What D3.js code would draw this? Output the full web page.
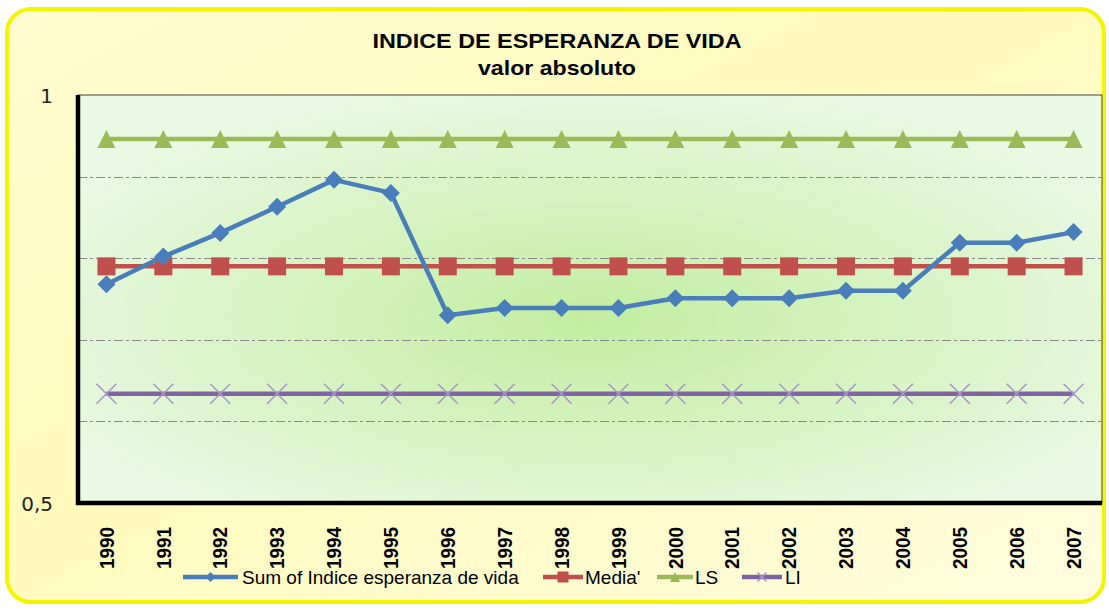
<!DOCTYPE html>
<html lang="es">
<head>
<meta charset="UTF-8">
<title>Indice de esperanza de vida</title>
<script src="https://d3js.org/d3.v7.min.js"></script>
<style>
  body { margin: 0; background: #fff; }
  text { font-family: "Liberation Sans", Arial, sans-serif; }
</style>
</head>
<body>
<script>
var years = ['1990','1991','1992','1993','1994','1995','1996','1997','1998',
             '1999','2000','2001','2002','2003','2004','2005','2006','2007'];
var indice = [0.768, 0.802, 0.831, 0.863, 0.896, 0.880, 0.730, 0.739, 0.739,
              0.739, 0.751, 0.751, 0.751, 0.760, 0.760, 0.819, 0.819, 0.832];
var media  = [0.79, 0.79, 0.79, 0.79, 0.79, 0.79, 0.79, 0.79, 0.79,
              0.79, 0.79, 0.79, 0.79, 0.79, 0.79, 0.79, 0.79, 0.79];
var ls     = [0.946, 0.946, 0.946, 0.946, 0.946, 0.946, 0.946, 0.946, 0.946,
              0.946, 0.946, 0.946, 0.946, 0.946, 0.946, 0.946, 0.946, 0.946];
var li     = [0.634, 0.634, 0.634, 0.634, 0.634, 0.634, 0.634, 0.634, 0.634,
              0.634, 0.634, 0.634, 0.634, 0.634, 0.634, 0.634, 0.634, 0.634];
var gridValues = [0.6, 0.7, 0.8, 0.9];
var yTickValues = [0.5, 1];
var yTickLabels = ['0,5', '1'];
var seriesNames = ['Sum of Indice esperanza de vida', "Media'", 'LS', 'LI'];

var width = 1109, height = 609;
var plotLeft = 78, plotRight = 1102, plotTop = 95, plotBottom = 503;

var svg = d3.select('body').append('svg')
  .attr('width', width)
  .attr('height', height);

var defs = svg.append('defs');
var bg = defs.append('linearGradient').attr('id', 'bg')
  .attr('x1', 0).attr('y1', 0).attr('x2', 1).attr('y2', 1);
bg.append('stop').attr('offset', '0%').attr('stop-color', '#fffcd0');
bg.append('stop').attr('offset', '45%').attr('stop-color', '#fffbbd');
bg.append('stop').attr('offset', '100%').attr('stop-color', '#fffde0');

var plotBg = defs.append('radialGradient').attr('id', 'plotbg')
  .attr('cx', '0.5').attr('cy', '0.55').attr('r', '0.6');
plotBg.append('stop').attr('offset', '0%').attr('stop-color', '#c2eda0');
plotBg.append('stop').attr('offset', '100%').attr('stop-color', '#eaf9e4');

// chart area
svg.append('rect')
  .attr('x', 7).attr('y', 9)
  .attr('width', 1097).attr('height', 593)
  .attr('rx', 24).attr('ry', 24)
  .attr('fill', 'url(#bg)')
  .attr('stroke', '#f7f400')
  .attr('stroke-width', 4);

var x = d3.scalePoint().domain(years).range([plotLeft, plotRight]).padding(0.5);
var y = d3.scaleLinear().domain([0.5, 1]).range([plotBottom, plotTop]);

// plot area
svg.append('rect')
  .attr('x', plotLeft).attr('y', plotTop)
  .attr('width', plotRight - plotLeft).attr('height', plotBottom - plotTop)
  .attr('fill', 'url(#plotbg)')
  .attr('stroke', '#444')
  .attr('stroke-width', 1);

svg.selectAll('line.grid')
  .data(gridValues)
  .enter().append('line')
    .attr('class', 'grid')
    .attr('x1', plotLeft).attr('x2', plotRight)
    .attr('y1', function(d) { return Math.round(y(d)) + 0.5; })
    .attr('y2', function(d) { return Math.round(y(d)) + 0.5; })
    .attr('stroke', '#8a8a8a')
    .attr('stroke-width', 1)
    .attr('stroke-dasharray', '9,3,3,3');

// axes (thick black left and bottom)
svg.append('line')
  .attr('x1', plotLeft).attr('x2', plotLeft)
  .attr('y1', plotTop).attr('y2', plotBottom + 2)
  .attr('stroke', '#000').attr('stroke-width', 4.5);
svg.append('line')
  .attr('x1', plotLeft - 2).attr('x2', plotRight)
  .attr('y1', plotBottom).attr('y2', plotBottom)
  .attr('stroke', '#000').attr('stroke-width', 4.5);

svg.selectAll('text.ytick')
  .data(yTickValues)
  .enter().append('text')
    .attr('class', 'ytick')
    .attr('x', 53)
    .attr('y', function(d) { return y(d); })
    .attr('dy', '0.38em')
    .attr('text-anchor', 'end')
    .style('font-family', '"DejaVu Sans", sans-serif')
    .style('font-size', '20px')
    .attr('fill', '#222')
    .text(function(d, i) { return yTickLabels[i]; });

svg.selectAll('text.xtick')
  .data(years)
  .enter().append('text')
    .attr('class', 'xtick')
    .attr('transform', function(d) { return 'translate(' + x(d) + ',527) rotate(-90)'; })
    .attr('dy', '0.36em')
    .attr('text-anchor', 'end')
    .attr('textLength', 42)
    .attr('lengthAdjust', 'spacingAndGlyphs')
    .style('font-size', '20px')
    .style('font-weight', 'bold')
    .attr('fill', '#000')
    .text(function(d) { return d; });

// title
svg.append('text')
  .attr('x', 557).attr('y', 48)
  .attr('text-anchor', 'middle')
  .attr('textLength', 369)
  .attr('lengthAdjust', 'spacingAndGlyphs')
  .style('font-size', '21px').style('font-weight', 'bold')
  .text('INDICE DE ESPERANZA DE VIDA');
svg.append('text')
  .attr('x', 557).attr('y', 75)
  .attr('text-anchor', 'middle')
  .attr('textLength', 158)
  .attr('lengthAdjust', 'spacingAndGlyphs')
  .style('font-size', '21px').style('font-weight', 'bold')
  .text('valor absoluto');

// marker helpers
function diamond(g, cx, cy, r) {
  g.append('path')
    .attr('d', 'M' + cx + ',' + (cy - r) + 'L' + (cx + r) + ',' + cy +
               'L' + cx + ',' + (cy + r) + 'L' + (cx - r) + ',' + cy + 'Z')
    .attr('fill', '#4a7ebb');
}
function square(g, cx, cy, s) {
  g.append('rect').attr('x', cx - s / 2).attr('y', cy - s / 2)
    .attr('width', s).attr('height', s).attr('fill', '#c0504d');
}
function triangle(g, cx, cy, s) {
  g.append('path')
    .attr('d', 'M' + cx + ',' + (cy - s / 2) + 'L' + (cx + s / 2) + ',' + (cy + s / 2) +
               'L' + (cx - s / 2) + ',' + (cy + s / 2) + 'Z')
    .attr('fill', '#9bbb59');
}
function cross(g, cx, cy, s) {
  g.append('path')
    .attr('d', 'M' + (cx - s / 2) + ',' + (cy - s / 2) + 'L' + (cx + s / 2) + ',' + (cy + s / 2) +
               'M' + (cx + s / 2) + ',' + (cy - s / 2) + 'L' + (cx - s / 2) + ',' + (cy + s / 2))
    .attr('stroke', '#a895c8').attr('stroke-width', 1.5).attr('fill', 'none');
}

var line = d3.line()
  .x(function(d, i) { return x(years[i]); })
  .y(function(d) { return y(d); });

var series = [
  { values: li,     color: '#8064a2', marker: cross,    size: 20 },
  { values: ls,     color: '#9bbb59', marker: triangle, size: 18 },
  { values: media,  color: '#c0504d', marker: square,   size: 18 },
  { values: indice, color: '#4a7ebb', marker: diamond,  size: 9 }
];

series.forEach(function(s) {
  var g = svg.append('g');
  g.append('path')
    .attr('d', line(s.values))
    .attr('fill', 'none')
    .attr('stroke', s.color)
    .attr('stroke-width', 4.5)
    .attr('stroke-linejoin', 'round');
  s.values.forEach(function(v, i) {
    s.marker(g, x(years[i]), y(v), s.size);
  });
});

// legend
var legendSpec = [
  { name: seriesNames[0], color: '#4a7ebb', marker: diamond,  size: 5,  sx: 183, sw: 55, tx: 242 },
  { name: seriesNames[1], color: '#c0504d', marker: square,   size: 11, sx: 543, sw: 40, tx: 585 },
  { name: seriesNames[2], color: '#9bbb59', marker: triangle, size: 10, sx: 657, sw: 36, tx: 695 },
  { name: seriesNames[3], color: '#8064a2', marker: cross,    size: 9,  sx: 742, sw: 40, tx: 785 }
];
var ly = 577;
legendSpec.forEach(function(l) {
  var g = svg.append('g');
  g.append('line')
    .attr('x1', l.sx).attr('x2', l.sx + l.sw)
    .attr('y1', ly).attr('y2', ly)
    .attr('stroke', l.color).attr('stroke-width', 4.5);
  l.marker(g, l.sx + l.sw / 2, ly, l.size);
  g.append('text')
    .attr('x', l.tx).attr('y', 584)
    .style('font-size', '19px')
    .attr('fill', '#000')
    .text(l.name);
});
</script>
</body>
</html>
